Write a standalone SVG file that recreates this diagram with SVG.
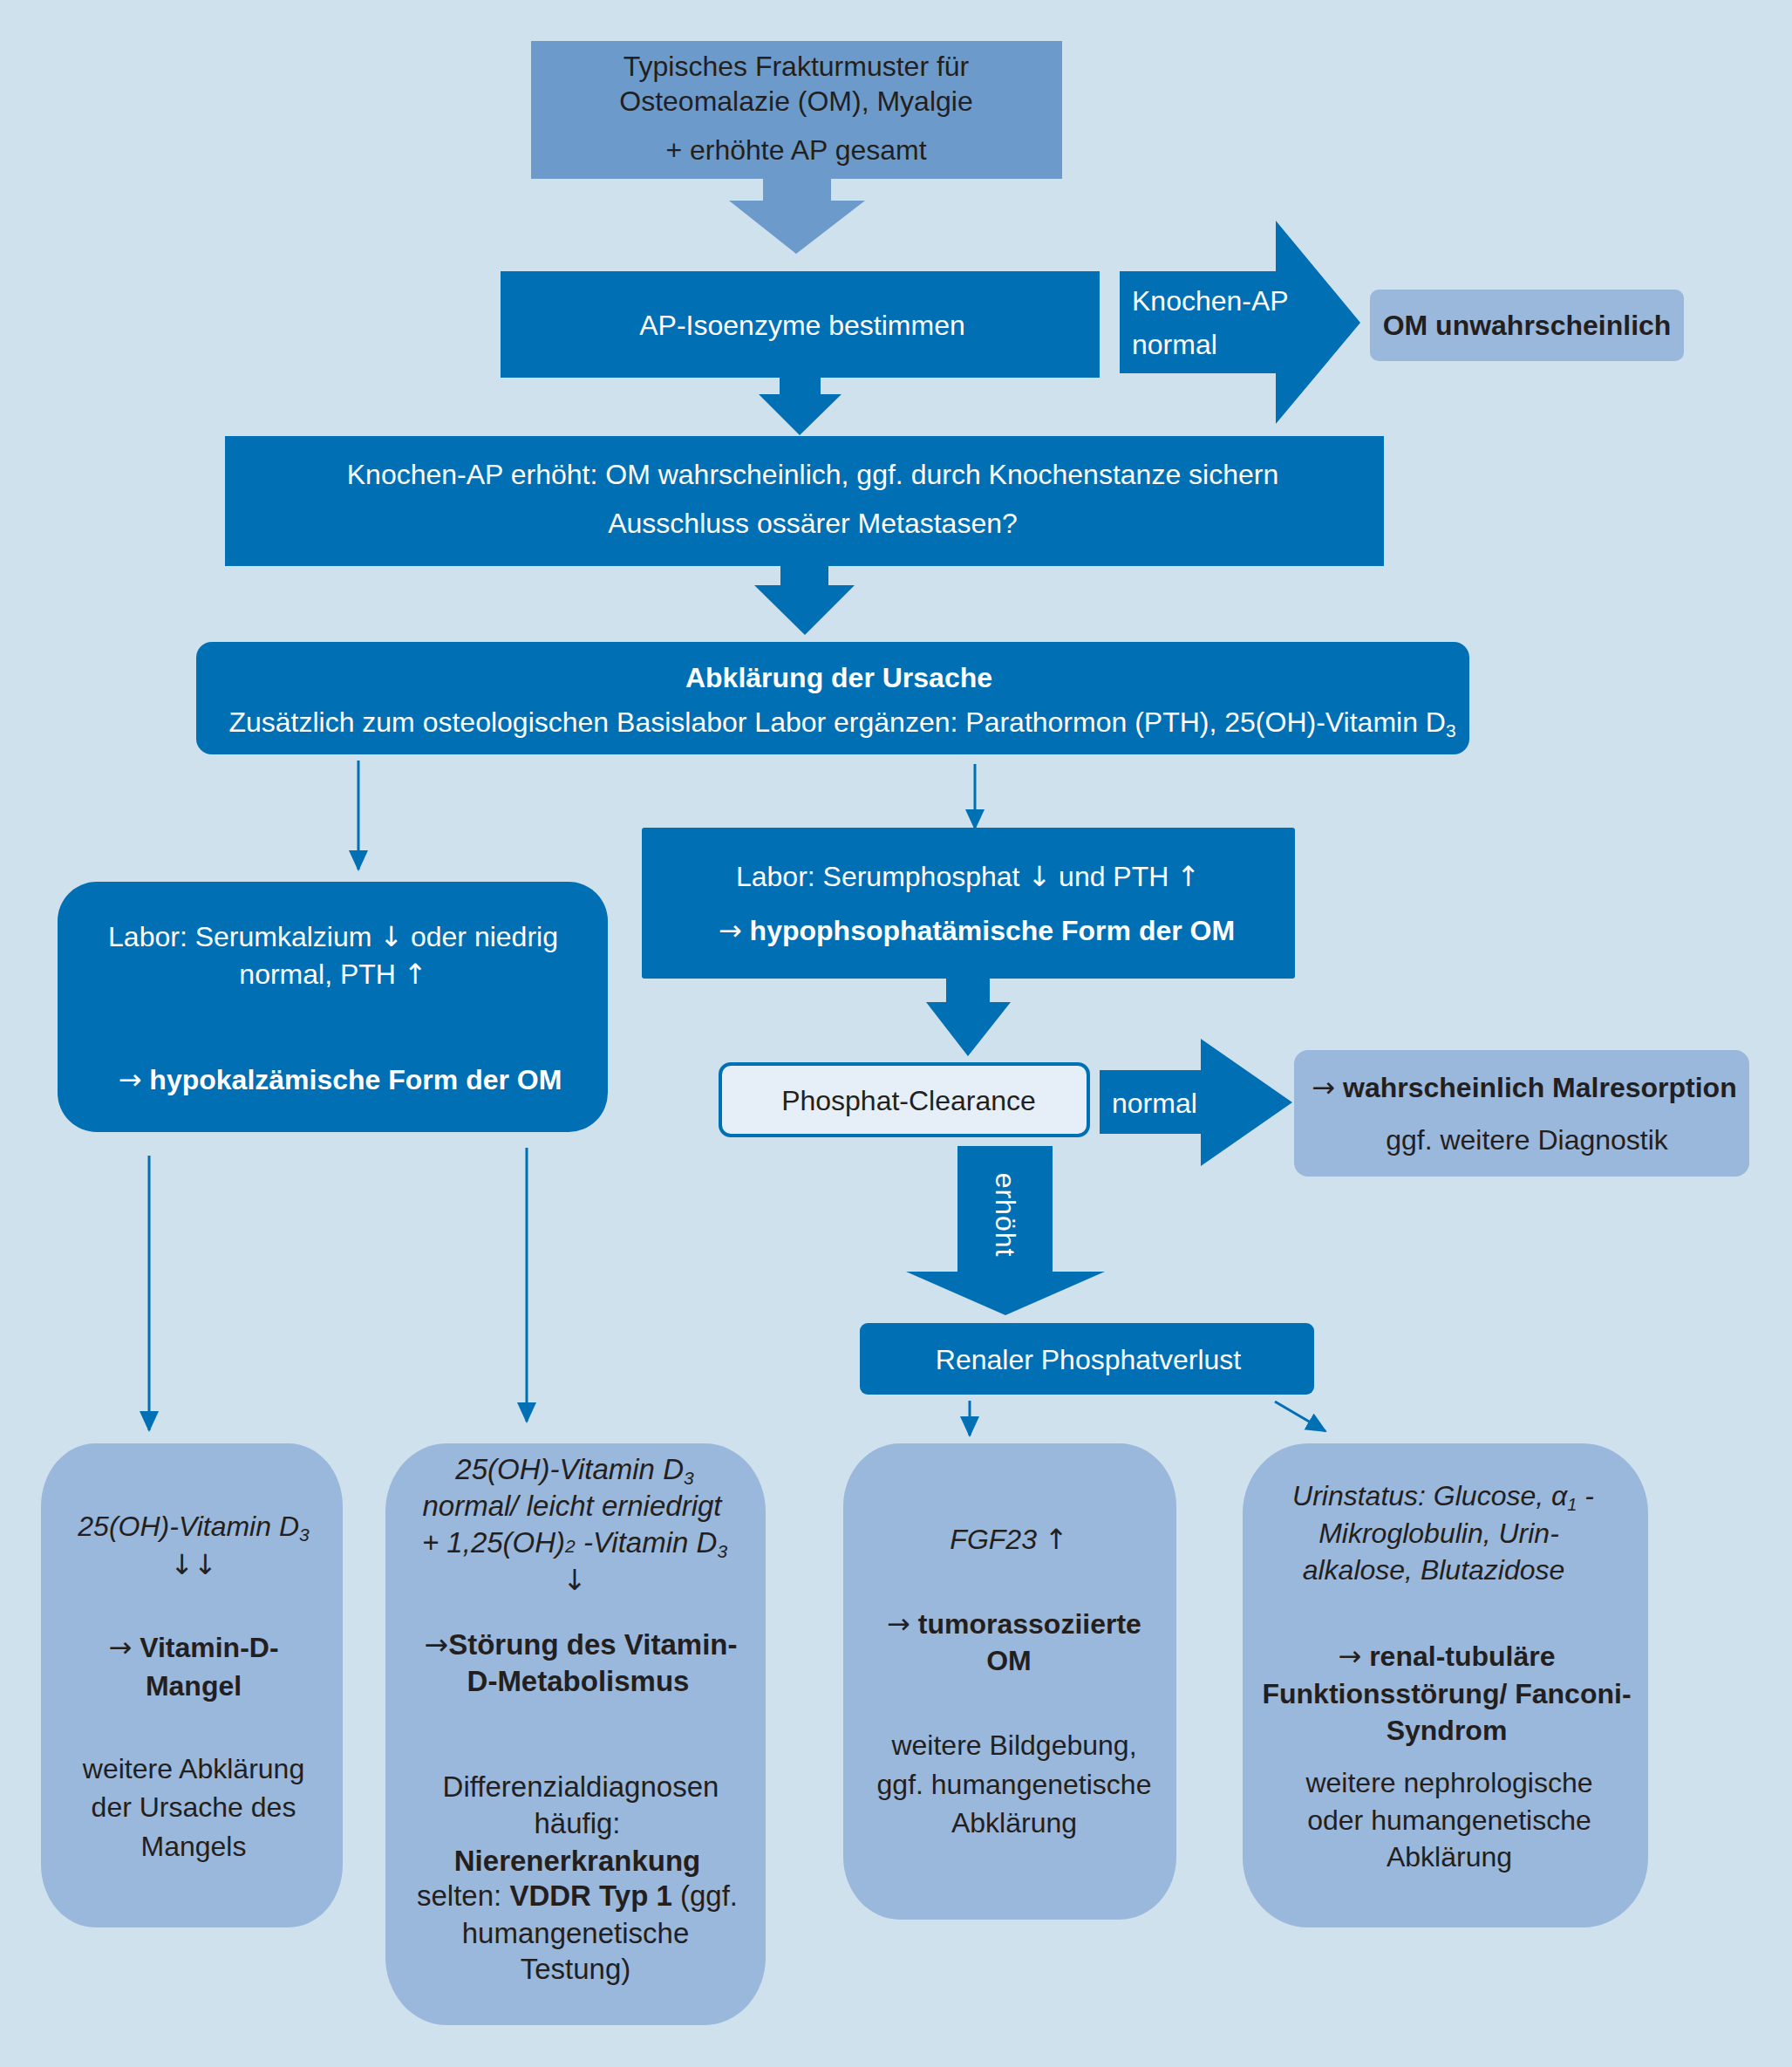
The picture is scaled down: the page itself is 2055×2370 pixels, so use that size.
<svg xmlns="http://www.w3.org/2000/svg" width="2055" height="2370" viewBox="0 0 2055 2370">
<style>
text{font-family:"Liberation Sans","DejaVu Sans",sans-serif;font-size:32px;text-anchor:middle}
.w{fill:#ffffff}
.d{fill:#231f20}
.b{font-weight:bold}
.i{font-style:italic}
.ar{font-family:"DejaVu Sans",sans-serif;font-weight:normal;font-style:normal}
.bb text{font-size:33px}
.dark{fill:#006fb4}
.mid{fill:#6c9bcb}
.light{fill:#9ab7dc}
</style>
<defs>
<marker id="ah2" viewBox="0 0 24 24" refX="22" refY="12" markerWidth="24" markerHeight="24" markerUnits="userSpaceOnUse" orient="auto">
<path d="M0,1 L24,12 L0,23 Z" fill="#0070b5"/>
</marker>
</defs>
<rect width="2055" height="2370" fill="#cfe1ed"/>

<g id="connectors">
<polygon class="mid" points="875,205 953,205 953,230 992,230 913,291 836,230 875,230"/>
<polygon class="dark" points="894,432 941,432 941,452 965,452 917,499 870,452 894,452"/>
<polygon class="dark" points="1284,311 1463,311 1463,253 1560,370 1463,486 1463,428 1284,428"/>
<text class="w" x="1298" y="356" style="text-anchor:start">Knochen-AP</text>
<text class="w" x="1298" y="406" style="text-anchor:start">normal</text>
<polygon class="dark" points="895,648 950,648 950,671 980,671 923,728 865,671 895,671"/>
<line x1="411" y1="872" x2="411" y2="997" stroke="#0070b5" stroke-width="3" marker-end="url(#ah2)"/>
<line x1="1118" y1="876" x2="1118" y2="950" stroke="#0070b5" stroke-width="3" marker-end="url(#ah2)"/>
<polygon class="dark" points="1085,1121 1135,1121 1135,1149 1159,1149 1110,1211 1062,1149 1085,1149"/>
<polygon class="dark" points="1261,1227 1377,1227 1377,1191 1482,1264 1377,1337 1377,1300 1261,1300"/>
<text class="w" x="1275" y="1276" style="text-anchor:start">normal</text>
<polygon class="dark" points="1098,1314 1207,1314 1207,1458 1267,1458 1153,1508 1039,1458 1098,1458"/>
<text class="w" transform="translate(1142,1393) rotate(90)" x="0" y="0" style="letter-spacing:1px">erhöht</text>
<line x1="171" y1="1325" x2="171" y2="1640" stroke="#0070b5" stroke-width="3" marker-end="url(#ah2)"/>
<line x1="604" y1="1316" x2="604" y2="1630" stroke="#0070b5" stroke-width="3" marker-end="url(#ah2)"/>
<line x1="1112" y1="1606" x2="1112" y2="1646" stroke="#0070b5" stroke-width="3" marker-end="url(#ah2)"/>
<line x1="1462" y1="1607" x2="1520" y2="1641" stroke="#0070b5" stroke-width="3" marker-end="url(#ah2)"/>
</g>

<g id="n1">
<rect class="mid" x="609" y="47" width="609" height="158"/>
<text class="d" x="913" y="87">Typisches Frakturmuster für</text>
<text class="d" x="913" y="127">Osteomalazie (OM), Myalgie</text>
<text class="d" x="913" y="183">+ erhöhte AP gesamt</text>
</g>

<g id="n2">
<rect class="dark" x="574" y="311" width="687" height="122"/>
<text class="w" x="920" y="384">AP-Isoenzyme bestimmen</text>
</g>

<g id="n3">
<rect class="light" x="1571" y="332" width="360" height="82" rx="10"/>
<text class="d b" x="1751" y="384">OM unwahrscheinlich</text>
</g>

<g id="n4">
<rect class="dark" x="258" y="500" width="1329" height="149"/>
<text class="w" x="932" y="555">Knochen-AP erhöht: OM wahrscheinlich, ggf. durch Knochenstanze sichern</text>
<text class="w" x="932" y="611">Ausschluss ossärer Metastasen?</text>
</g>

<g id="n5">
<rect class="dark" x="225" y="736" width="1460" height="129" rx="18"/>
<text class="w b" x="962" y="788">Abklärung der Ursache</text>
<text class="w" x="966" y="839">Zusätzlich zum osteologischen Basislabor Labor ergänzen: Parathormon (PTH), 25(OH)-Vitamin D<tspan font-size="21" dy="6">3</tspan></text>
</g>

<g id="n6">
<rect class="dark" x="66" y="1011" width="631" height="287" rx="45"/>
<text class="w" x="382" y="1085">Labor: Serumkalzium <tspan class="ar">↓</tspan> oder niedrig</text>
<text class="w" x="382" y="1128">normal, PTH <tspan class="ar">↑</tspan></text>
<text class="w b" x="390" y="1249"><tspan class="ar">→</tspan> hypokalzämische Form der OM</text>
</g>

<g id="n7">
<rect class="dark" x="736" y="949" width="749" height="173" rx="3"/>
<text class="w" x="1110" y="1016">Labor: Serumphosphat <tspan class="ar">↓</tspan> und PTH <tspan class="ar">↑</tspan></text>
<text class="w b" x="1120" y="1078"><tspan class="ar">→</tspan> hypophsophatämische Form der OM</text>
</g>

<g id="n8">
<rect x="826" y="1220" width="422" height="82" rx="12" fill="#e6eff7" stroke="#0070b5" stroke-width="4"/>
<text class="d" x="1042" y="1273">Phosphat-Clearance</text>
</g>

<g id="n9">
<rect class="light" x="1484" y="1204" width="522" height="145" rx="16"/>
<text class="d b" x="1748" y="1258"><tspan class="ar">→</tspan> wahrscheinlich Malresorption</text>
<text class="d" x="1751" y="1318">ggf. weitere Diagnostik</text>
</g>

<g id="n10">
<rect class="dark" x="986" y="1517" width="521" height="82" rx="9"/>
<text class="w" x="1248" y="1570">Renaler Phosphatverlust</text>
</g>

<g id="n11">
<rect class="light" x="47" y="1655" width="346" height="555" rx="62" ry="72"/>
<text class="d i" x="222" y="1761">25(OH)-Vitamin D<tspan font-size="21" dy="6">3</tspan></text>
<text class="d" x="222" y="1805"><tspan class="ar">↓↓</tspan></text>
<text class="d b" x="222" y="1900"><tspan class="ar">→</tspan> Vitamin-D-</text>
<text class="d b" x="222" y="1944">Mangel</text>
<text class="d" x="222" y="2039">weitere Abklärung</text>
<text class="d" x="222" y="2083">der Ursache des</text>
<text class="d" x="222" y="2128">Mangels</text>
</g>

<g id="n12" class="bb">
<rect class="light" x="442" y="1655" width="436" height="667" rx="70" ry="78"/>
<text class="d i" x="659" y="1696">25(OH)-Vitamin D<tspan font-size="21" dy="6">3</tspan></text>
<text class="d i" x="656" y="1738">normal/ leicht erniedrigt</text>
<text class="d i" x="659" y="1780">+ 1,25(OH)<tspan font-size="21">2</tspan> -Vitamin D<tspan font-size="21" dy="6">3</tspan></text>
<text class="d" x="659" y="1823"><tspan class="ar">↓</tspan></text>
<text class="d b" x="666" y="1897"><tspan class="ar">→</tspan>Störung des Vitamin-</text>
<text class="d b" x="663" y="1939">D-Metabolismus</text>
<text class="d" x="666" y="2060">Differenzialdiagnosen</text>
<text class="d" x="662" y="2102">häufig:</text>
<text class="d b" x="662" y="2145">Nierenerkrankung</text>
<text class="d" x="662" y="2185">selten: <tspan class="b">VDDR Typ 1</tspan> (ggf.</text>
<text class="d" x="660" y="2228">humangenetische</text>
<text class="d" x="660" y="2269">Testung)</text>
</g>

<g id="n13">
<rect class="light" x="967" y="1655" width="382" height="546" rx="65" ry="72"/>
<text class="d i" x="1157" y="1776">FGF23 <tspan class="ar">↑</tspan></text>
<text class="d b" x="1163" y="1873"><tspan class="ar">→</tspan> tumorassoziierte</text>
<text class="d b" x="1157" y="1915">OM</text>
<text class="d" x="1163" y="2012">weitere Bildgebung,</text>
<text class="d" x="1163" y="2057">ggf. humangenetische</text>
<text class="d" x="1163" y="2101">Abklärung</text>
</g>

<g id="n14">
<rect class="light" x="1425" y="1655" width="465" height="555" rx="75" ry="80"/>
<text class="d i" x="1655" y="1726" font-size="30">Urinstatus: Glucose, α<tspan font-size="20" dy="6">1</tspan><tspan dy="-6"> -</tspan></text>
<text class="d i" x="1650" y="1769" font-size="30">Mikroglobulin, Urin-</text>
<text class="d i" x="1644" y="1811" font-size="30">alkalose,  Blutazidose</text>
<text class="d b" x="1659" y="1910"><tspan class="ar">→</tspan> renal-tubuläre</text>
<text class="d b" x="1659" y="1953">Funktionsstörung/ Fanconi-</text>
<text class="d b" x="1659" y="1995">Syndrom</text>
<text class="d" x="1662" y="2055">weitere nephrologische</text>
<text class="d" x="1662" y="2098">oder humangenetische</text>
<text class="d" x="1662" y="2140">Abklärung</text>
</g>
</svg>
